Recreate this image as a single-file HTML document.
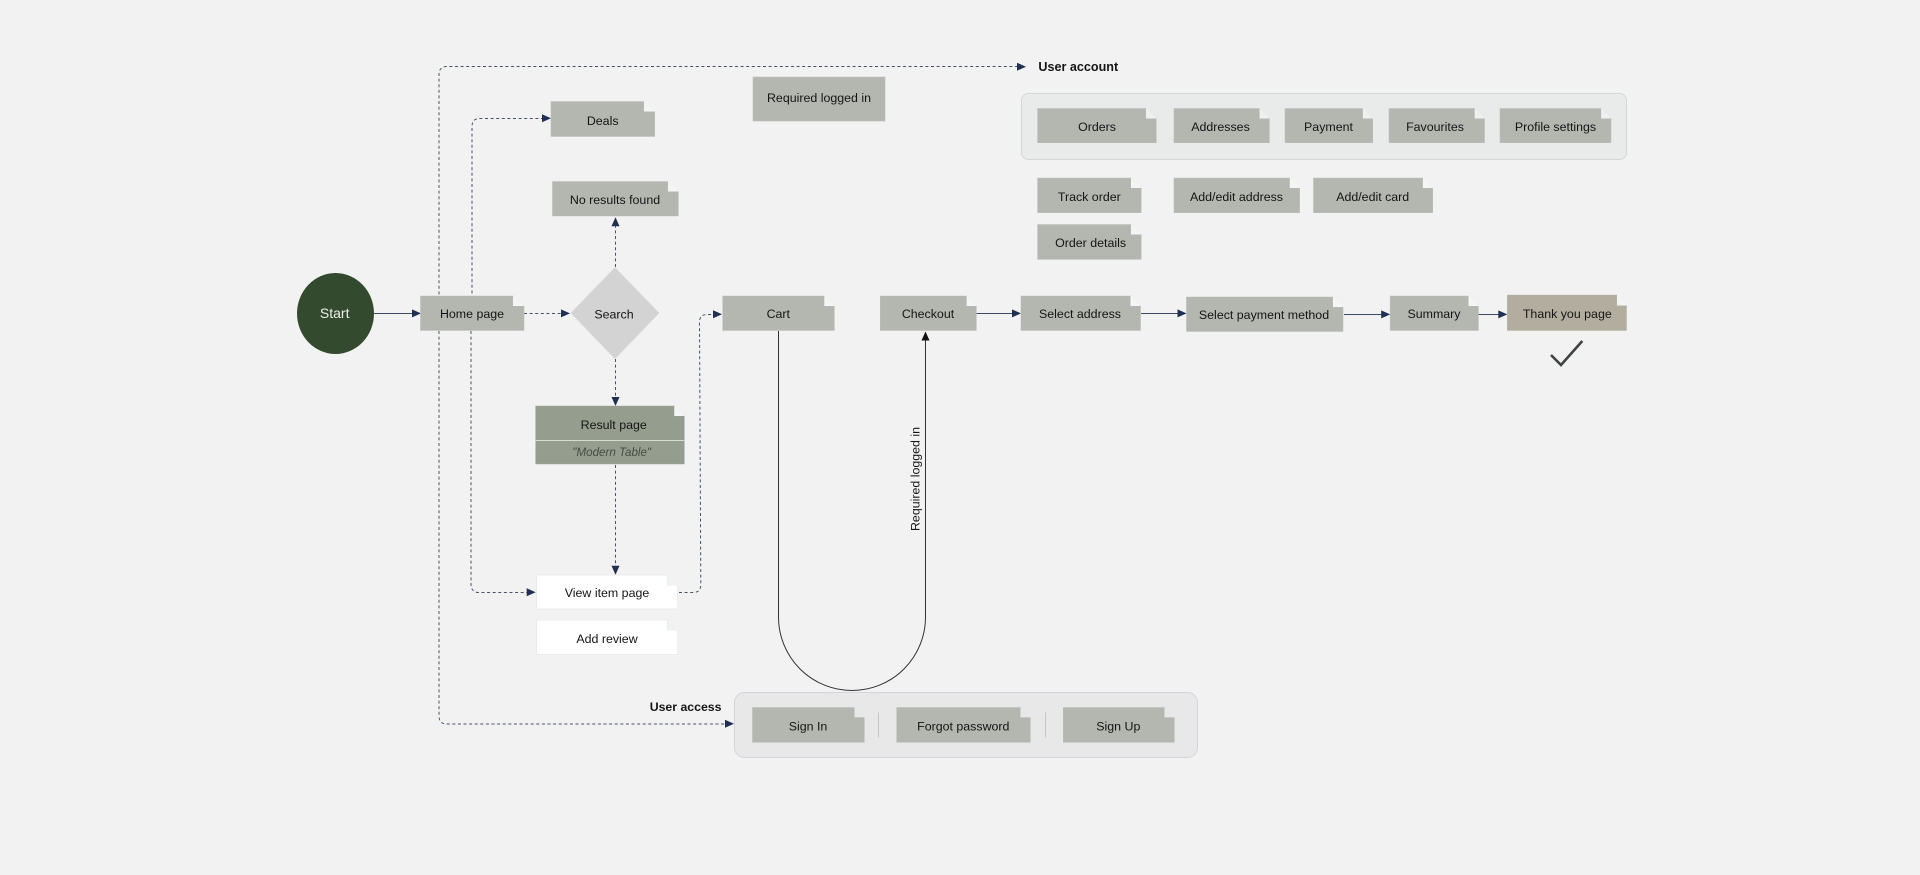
<!DOCTYPE html>
<html><head><meta charset="utf-8"><style>
html,body{margin:0;padding:0;background:#f2f2f2;width:1920px;height:875px;overflow:hidden}
svg{display:block;filter:blur(.35px)}
text{font-family:"Liberation Sans",sans-serif;font-size:12.4px;fill:#151515;text-anchor:middle}
.n{fill:#b3b7b0;stroke:#bcc0ba;stroke-width:.6}
.f{fill:#f5f5f5}
.g{fill:#eff0f0}
.d{fill:none;stroke:#46526b;stroke-width:1;stroke-dasharray:3 2.6}
.s{fill:none;stroke:#3a4a68;stroke-width:1.1}
.a{fill:#1f3052}
.b{font-weight:bold;text-anchor:start;font-size:12.3px}
</style></head><body>
<svg width="1920" height="875" viewBox="0 0 1920 875" xmlns="http://www.w3.org/2000/svg">
<rect width="1920" height="875" fill="#f2f2f2"/>

<!-- Group boxes -->
<rect x="1021.5" y="93.5" width="605" height="66" rx="7" fill="#e9eaea" stroke="#d3d7da"/>
<rect x="734.5" y="692.5" width="463" height="65" rx="10" fill="#e8e8e8" stroke="#d2d5dc"/>

<!-- Dashed connectors -->
<path class="d" d="M1018 66.5H447Q439 66.5 439 74.5V295"/>
<path class="d" d="M439 331V716Q439 724 447 724H727"/>
<path class="d" d="M544 118.5H480Q472 118.5 472 126.5V295"/>
<path class="d" d="M471 331V584Q471 592.5 479 592.5H528"/>
<path class="d" d="M524 313.5H563"/>
<path class="d" d="M615.5 267V225"/>
<path class="d" d="M615.5 359V399"/>
<path class="d" d="M615.5 465V567"/>
<path class="d" d="M679 592.5H693Q701 592.5 700.8 584L699.5 322Q699.5 314.5 707 314.5H715"/>

<!-- Solid connectors -->
<path class="s" d="M374 313.5H414"/>
<path class="s" d="M976 313.5H1014"/>
<path class="s" d="M1141 313.5H1180"/>
<path class="s" d="M1344 314.5H1384"/>
<path class="s" d="M1478 314.5H1501"/>
<path fill="none" stroke="#333" stroke-width="1" d="M778.5 331V617A73.5 73.5 0 0 0 925.5 617V338"/>

<!-- Arrowheads -->
<polygon class="a" points="1026,66.7 1017,62.7 1017,70.7"/>
<polygon class="a" points="551,118.3 542,114.3 542,122.3"/>
<polygon class="a" points="421,313.4 412,309.4 412,317.4"/>
<polygon class="a" points="570,313.4 561,309.4 561,317.4"/>
<polygon class="a" points="722,314.3 713,310.3 713,318.3"/>
<polygon class="a" points="535.7,592.3 526.7,588.3 526.7,596.3"/>
<polygon class="a" points="734,723.8 725,719.8 725,727.8"/>
<polygon class="a" points="615.5,217.3 611.5,226.3 619.5,226.3"/>
<polygon class="a" points="615.5,406 611.5,397 619.5,397"/>
<polygon class="a" points="615.5,574.7 611.5,565.7 619.5,565.7"/>
<polygon fill="#111" points="925.5,331.5 921.5,340.5 929.5,340.5"/>
<polygon class="a" points="1021,313.4 1012,309.4 1012,317.4"/>
<polygon class="a" points="1186.5,313.4 1177.5,309.4 1177.5,317.4"/>
<polygon class="a" points="1390.2,314.4 1381.2,310.4 1381.2,318.4"/>
<polygon class="a" points="1507.3,314.4 1498.3,310.4 1498.3,318.4"/>

<!-- Start -->
<ellipse cx="335.5" cy="313.5" rx="38.5" ry="40.5" fill="#344a2e"/>
<text x="334.7" y="318" style="fill:#eef0ea;font-size:14px">Start</text>

<!-- Search -->
<polygon points="615,267.3 659.3,313 615,359 570.7,313" fill="#d3d3d3"/>
<text x="614" y="318.5">Search</text>

<!-- Notes -->
<path class="n" d="M420.5 296H513V306H524V330.5H420.5Z"/><polygon class="f" points="513,296 513,306 524,306"/>
<text x="472" y="318">Home page</text>

<path class="n" d="M551 101.5H644V111.5H654.7V136.5H551Z"/><polygon class="f" points="644,101.5 644,111.5 654.7,111.5"/>
<text x="602.7" y="125">Deals</text>

<path class="n" d="M552.5 181.5H668V191.5H678.3V216H552.5Z"/><polygon class="f" points="668,181.5 668,191.5 678.3,191.5"/>
<text x="615" y="204">No results found</text>

<rect class="n" x="753" y="77" width="132" height="44"/>
<text x="819" y="102">Required logged in</text>

<!-- Result page -->
<path d="M535.7 406H674.3V416H684.3V464H535.7Z" fill="#959d8e" stroke="#a5aba0" stroke-width=".6"/>
<polygon class="f" points="674.3,406 674.3,416 684.3,416"/>
<rect x="535.7" y="440" width="148.6" height="1" fill="#d6dad3"/>
<text x="613.7" y="429">Result page</text>
<text x="611.7" y="456" style="font-style:italic;fill:#454b46;font-size:11.6px">"Modern Table"</text>

<!-- White pages -->
<path d="M536.5 575H667.3V585H677.7V609H536.5Z" fill="#fff" stroke="#e6e8ea" stroke-width=".8"/>
<polygon points="667.3,575 667.3,585 677.7,585" fill="#f0f1f1"/>
<text x="607" y="597">View item page</text>
<path d="M536.5 620H667.3V630H677.7V654.5H536.5Z" fill="#fff" stroke="#e6e8ea" stroke-width=".8"/>
<polygon points="667.3,620 667.3,630 677.7,630" fill="#f0f1f1"/>
<text x="607" y="643">Add review</text>

<!-- Cart / Checkout -->
<path class="n" d="M722.7 296H824.3V306H834.3V330.5H722.7Z"/><polygon class="f" points="824.3,296 824.3,306 834.3,306"/>
<text x="778.3" y="318">Cart</text>
<path class="n" d="M880.3 296H966.7V306H976.3V330.5H880.3Z"/><polygon class="f" points="966.7,296 966.7,306 976.3,306"/>
<text x="928" y="318">Checkout</text>

<path class="n" d="M1021 296H1130.5V306H1140.5V330.5H1021Z"/><polygon class="f" points="1130.5,296 1130.5,306 1140.5,306"/>
<text x="1080" y="318">Select address</text>
<path class="n" d="M1186.5 297H1333V307H1343V331.5H1186.5Z"/><polygon class="f" points="1333,297 1333,307 1343,307"/>
<text x="1264" y="319">Select payment method</text>
<path class="n" d="M1390.2 296H1468.5V306H1478.4V330.5H1390.2Z"/><polygon class="f" points="1468.5,296 1468.5,306 1478.4,306"/>
<text x="1434" y="318">Summary</text>
<path d="M1507.3 295H1617V305.5H1626.5V330.5H1507.3Z" fill="#b2ad9f" stroke="#bab6a9" stroke-width=".6"/><polygon class="f" points="1617,295 1617,305.5 1626.5,305.5"/>
<text x="1567.3" y="318">Thank you page</text>
<polyline points="1551,355 1561,365 1582.3,341" fill="none" stroke="#3e4340" stroke-width="2.6"/>

<!-- Account group -->
<path class="n" d="M1037.6 108.5H1146V118.5H1156.3V142.7H1037.6Z"/><polygon class="g" points="1146,108.5 1146,118.5 1156.3,118.5"/>
<text x="1097" y="131">Orders</text>
<path class="n" d="M1174 108.5H1259.6V118.5H1269.4V142.7H1174Z"/><polygon class="g" points="1259.6,108.5 1259.6,118.5 1269.4,118.5"/>
<text x="1220.5" y="131">Addresses</text>
<path class="n" d="M1285 108.5H1362.9V118.5H1372.7V142.7H1285Z"/><polygon class="g" points="1362.9,108.5 1362.9,118.5 1372.7,118.5"/>
<text x="1328.5" y="131">Payment</text>
<path class="n" d="M1389 108.5H1474.7V118.5H1484.5V142.7H1389Z"/><polygon class="g" points="1474.7,108.5 1474.7,118.5 1484.5,118.5"/>
<text x="1435" y="131">Favourites</text>
<path class="n" d="M1500 108.5H1601.2V118.5H1611V142.7H1500Z"/><polygon class="g" points="1601.2,108.5 1601.2,118.5 1611,118.5"/>
<text x="1555.5" y="131">Profile settings</text>

<path class="n" d="M1037.6 178H1131V188H1141.2V212.7H1037.6Z"/><polygon class="f" points="1131,178 1131,188 1141.2,188"/>
<text x="1089.3" y="201">Track order</text>
<path class="n" d="M1174 178H1289.8V188H1299.6V212.7H1174Z"/><polygon class="f" points="1289.8,178 1289.8,188 1299.6,188"/>
<text x="1236.5" y="201">Add/edit address</text>
<path class="n" d="M1313.5 178H1422.9V188H1432.7V212.7H1313.5Z"/><polygon class="f" points="1422.9,178 1422.9,188 1432.7,188"/>
<text x="1372.7" y="201">Add/edit card</text>
<path class="n" d="M1037.6 224.5H1131V234.5H1141.2V259.3H1037.6Z"/><polygon class="f" points="1131,224.5 1131,234.5 1141.2,234.5"/>
<text x="1090.6" y="247">Order details</text>

<!-- Access group -->
<path class="n" d="M752.5 707.5H854.3V717.5H864.3V742.3H752.5Z"/>
<text x="808" y="730.5">Sign In</text>
<rect x="878" y="712.5" width="1" height="25" fill="#c6c8c8"/>
<path class="n" d="M896.7 707.5H1020.3V717.5H1030.3V742.3H896.7Z"/>
<text x="963.3" y="730.5">Forgot password</text>
<rect x="1045" y="712.5" width="1" height="25" fill="#c6c8c8"/>
<path class="n" d="M1063.3 707.5H1164.3V717.5H1174.3V742.3H1063.3Z"/>
<text x="1118.3" y="730.5">Sign Up</text>

<!-- Labels -->
<text class="b" x="1038.4" y="71" style="font-size:12.6px">User account</text>
<text class="b" x="649.7" y="711">User access</text>
<text transform="translate(919.5,479) rotate(-90)" x="0" y="0">Required logged in</text>
</svg>
</body></html>
